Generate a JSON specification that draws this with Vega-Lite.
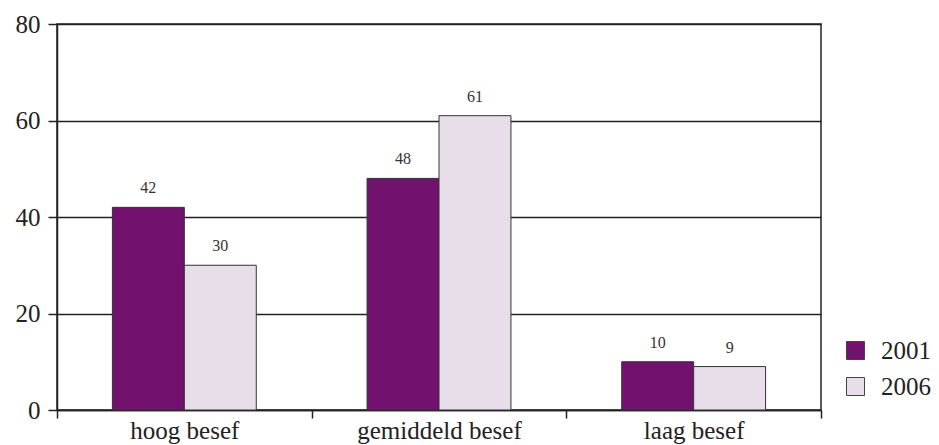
{
  "$schema": "https://vega.github.io/schema/vega-lite/v6.json",
  "width": 764,
  "height": 386,
  "autosize": {"type": "none"},
  "padding": {"left": 57, "top": 24, "right": 118, "bottom": 35},
  "background": "white",
  "data": {
    "values": [
      {"cat": "hoog besef", "year": "2001", "value": 42},
      {"cat": "hoog besef", "year": "2006", "value": 30},
      {"cat": "gemiddeld besef", "year": "2001", "value": 48},
      {"cat": "gemiddeld besef", "year": "2006", "value": 61},
      {"cat": "laag besef", "year": "2001", "value": 10},
      {"cat": "laag besef", "year": "2006", "value": 9}
    ]
  },
  "encoding": {
    "x": {
      "field": "cat",
      "type": "nominal",
      "sort": ["hoog besef", "gemiddeld besef", "laag besef"],
      "scale": {"paddingInner": 0, "paddingOuter": 0},
      "axis": {
        "title": null,
        "labelAngle": 0,
        "tickBand": "extent",
        "labelFontSize": 25,
        "labelFont": "Liberation Serif",
        "labelColor": "#222",
        "domainColor": "#222",
        "domainWidth": 1.5,
        "tickColor": "#222",
        "tickWidth": 1.5,
        "tickSize": 8,
        "labelPadding": 0,
        "grid": false
      }
    },
    "xOffset": {
      "field": "year",
      "type": "nominal",
      "scale": {"paddingInner": 0, "paddingOuter": 0.77}
    },
    "y": {
      "field": "value",
      "type": "quantitative",
      "scale": {"domain": [0, 80], "nice": false},
      "axis": {
        "title": null,
        "values": [0, 20, 40, 60, 80],
        "grid": true,
        "gridColor": "#222",
        "gridWidth": 1.5,
        "gridOpacity": 1,
        "domainColor": "#222",
        "domainWidth": 1.5,
        "tickColor": "#222",
        "tickWidth": 1.5,
        "tickSize": 9,
        "labelFontSize": 25,
        "labelFont": "Liberation Serif",
        "labelColor": "#222",
        "labelPadding": 8
      }
    }
  },
  "layer": [
    {
      "mark": {"type": "bar", "stroke": "#333", "strokeWidth": 1},
      "encoding": {
        "color": {
          "field": "year",
          "type": "nominal",
          "scale": {"domain": ["2001", "2006"], "range": ["#72116E", "#E8DEEA"]},
          "legend": {
            "title": null,
            "orient": "none",
            "legendX": 786,
            "legendY": 314,
            "symbolType": "square",
            "symbolSize": 324,
            "symbolStrokeColor": "#444",
            "symbolStrokeWidth": 1,
            "symbolOpacity": 1,
            "labelFontSize": 25,
            "labelFont": "Liberation Serif",
            "labelColor": "#222",
            "labelOffset": 13,
            "rowPadding": 10
          }
        }
      }
    },
    {
      "mark": {"type": "text", "baseline": "bottom", "dy": -11, "fontSize": 16, "font": "Liberation Serif", "color": "#333"},
      "encoding": {
        "text": {"field": "value", "type": "quantitative"}
      }
    }
  ],
  "config": {
    "view": {"stroke": "#222", "strokeWidth": 1.5}
  }
}
